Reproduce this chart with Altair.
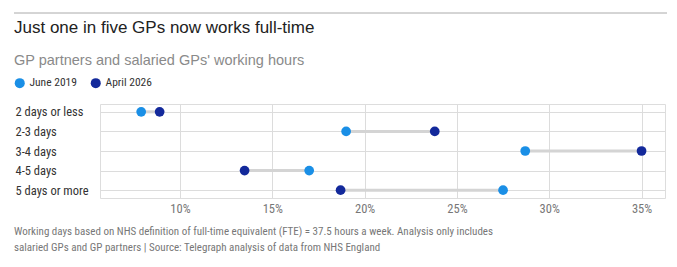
import altair as alt
import pandas as pd

categories = ["2 days or less", "2-3 days", "3-4 days", "4-5 days", "5 days or more"]
june_2019 = [7.9, 19.0, 28.7, 17.0, 27.5]
april_2026 = [8.9, 23.8, 35.0, 13.5, 18.7]
series_names = ["June 2019", "April 2026"]
series_colors = ["#1a8fe6", "#13299b"]
x_ticks = [10, 15, 20, 25, 30, 35]

COND = "Roboto Condensed, Liberation Sans Narrow, Roboto, sans-serif"
SANS = "Liberation Sans, Helvetica, Arial, sans-serif"

wide = pd.DataFrame({"cat": categories, "june": june_2019, "april": april_2026})
long = pd.concat([
    pd.DataFrame({"cat": categories, "series": series_names[0], "value": june_2019}),
    pd.DataFrame({"cat": categories, "series": series_names[1], "value": april_2026}),
])

xscale = alt.Scale(domain=[5.67, 36.27], nice=False, zero=False)
yscale = alt.Scale(type="point", domain=categories, padding=0.4)

xaxis = alt.Axis(values=x_ticks, labelExpr="datum.value + '%'", title=None, grid=True,
                 gridColor="#dcdcdc", domain=False, ticks=False, labelFont=COND,
                 labelFontSize=12.5, labelColor="#777777", labelPadding=4)
yaxis = alt.Axis(title=None, grid=True, gridColor="#dcdcdc", domain=False, ticks=False,
                 labelAlign="left", labelPadding=85, labelFont=COND, labelFontSize=12.5,
                 labelColor="#333333")

rules = alt.Chart(wide).mark_rule(color="#d4d4d4", strokeWidth=3).encode(
    y=alt.Y("cat:N", scale=yscale, axis=yaxis, sort=categories),
    x=alt.X("june:Q", scale=xscale, axis=xaxis),
    x2="april:Q",
)

points = alt.Chart(long).mark_circle(size=95, opacity=1).encode(
    y=alt.Y("cat:N", scale=yscale, sort=categories),
    x=alt.X("value:Q", scale=xscale),
    color=alt.Color("series:N", scale=alt.Scale(domain=series_names, range=series_colors),
                    sort=series_names,
                    legend=alt.Legend(orient="none", legendX=-86, legendY=-27,
                                      direction="horizontal", title=None,
                                      symbolType="circle", symbolSize=100,
                                      symbolStrokeWidth=0, labelFont=COND,
                                      labelFontSize=11.5, labelColor="#333333",
                                      columnPadding=13, labelOffset=4)),
)

def txt(s, x, y, size, color, font, weight="normal"):
    return alt.Chart(pd.DataFrame({"t": [s]})).mark_text(
        align="left", baseline="alphabetic", fontSize=size, color=color, font=font,
        fontWeight=weight,
    ).encode(text="t:N", x=alt.value(x), y=alt.value(y))

top_rule = alt.Chart(pd.DataFrame({"a": [0]})).mark_rule(color="#aaaaaa", strokeWidth=1).encode(
    x=alt.value(-86), x2=alt.value(567), y=alt.value(-91)
)

title = txt("Just one in five GPs now works full-time", -86, -71, 17, "#222222", SANS)
subtitle = txt("GP partners and salaried GPs' working hours", -86, -39, 14.5, "#8a8a8a", SANS)
foot1 = txt("Working days based on NHS definition of full-time equivalent (FTE) = 37.5 hours a week. Analysis only includes",
            -86, 131, 11, "#777777", COND)
foot2 = txt("salaried GPs and GP partners | Source: Telegraph analysis of data from NHS England",
            -86, 147, 11, "#777777", COND)

chart = alt.layer(top_rule, rules, points, title, subtitle, foot1, foot2).properties(
    width=565, height=94,
    autosize=alt.AutoSizeParams(type="none"),
    padding={"left": 100, "top": 104, "right": 12, "bottom": 69},
).configure_view(stroke=None).configure(background="white")

chart.save("out.html", embed_options={"renderer": "svg", "actions": False})
